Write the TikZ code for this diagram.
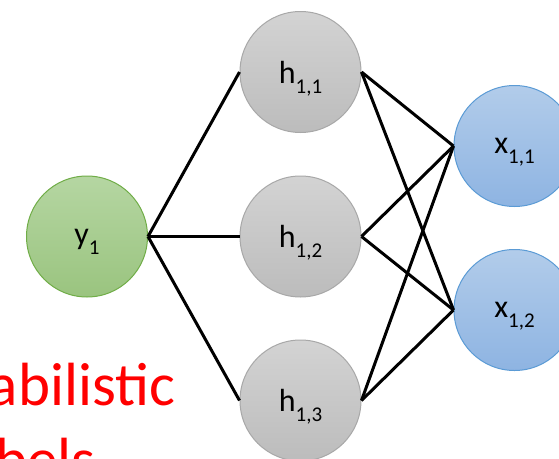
\documentclass[tikz,border=0pt]{standalone}
\usepackage{fontspec}
\setmainfont{Carlito}
% lowered, smaller index after a variable name
\newcommand\lowsub[1]{\raisebox{-10pt}{\fontsize{21}{21}\selectfont #1}}
\definecolor{grayEdge}{HTML}{A8A8A8}
\definecolor{grayTop}{HTML}{D3D3D3}
\definecolor{grayBot}{HTML}{BCBCBC}
\definecolor{greenEdge}{HTML}{70AD47}
\definecolor{greenTop}{HTML}{B5D6A2}
\definecolor{greenBot}{HTML}{9AC47F}
\definecolor{blueEdge}{HTML}{5B9BD5}
\definecolor{blueTop}{HTML}{B2CCEA}
\definecolor{blueBot}{HTML}{8EB4E2}
\begin{document}
\begin{tikzpicture}[x=1pt,y=-1pt,
  unit/.style={circle, minimum size=121pt, inner sep=0pt, line width=1pt,
    text depth=0pt, font=\fontsize{32}{32}\selectfont},
  hidden/.style={unit, draw=grayEdge, top color=grayTop, bottom color=grayBot},
  label/.style={unit, draw=greenEdge, top color=greenTop, bottom color=greenBot},
  observed/.style={unit, draw=blueEdge, top color=blueTop, bottom color=blueBot},
  link/.style={line width=3pt, black},
  title/.style={text=red, inner sep=0pt, anchor=base, font=\fontsize{61}{61}\selectfont}]
\useasboundingbox (0,0) rectangle (559,458);
\clip (0,0) rectangle (559,458);
\fill[white] (0,0) rectangle (559,458);

% heading text
\node[title] (t1) at (24,405) {Probabilistic};
\node[title] (t2) at (24,480) {labels};

% label layer
\node[label] (y1) at (87,236.5) {y\lowsub{1}};

% hidden layer
\node[hidden] (h11) at (300.5,72) {h\lowsub{1,1}};
\node[hidden] (h12) at (300.5,236.5) {h\lowsub{1,2}};
\node[hidden] (h13) at (300.5,400.5) {h\lowsub{1,3}};

% observed layer
\node[observed] (x11) at (514.5,146) {x\lowsub{1,1}};
\node[observed] (x12) at (514.5,310) {x\lowsub{1,2}};

% connections
\foreach \h in {h11,h12,h13} {
  \draw[link] (y1.east) -- (\h.west);
  \draw[link] (\h.east) -- (x11.west);
  \draw[link] (\h.east) -- (x12.west);
}
\end{tikzpicture}
\end{document}
